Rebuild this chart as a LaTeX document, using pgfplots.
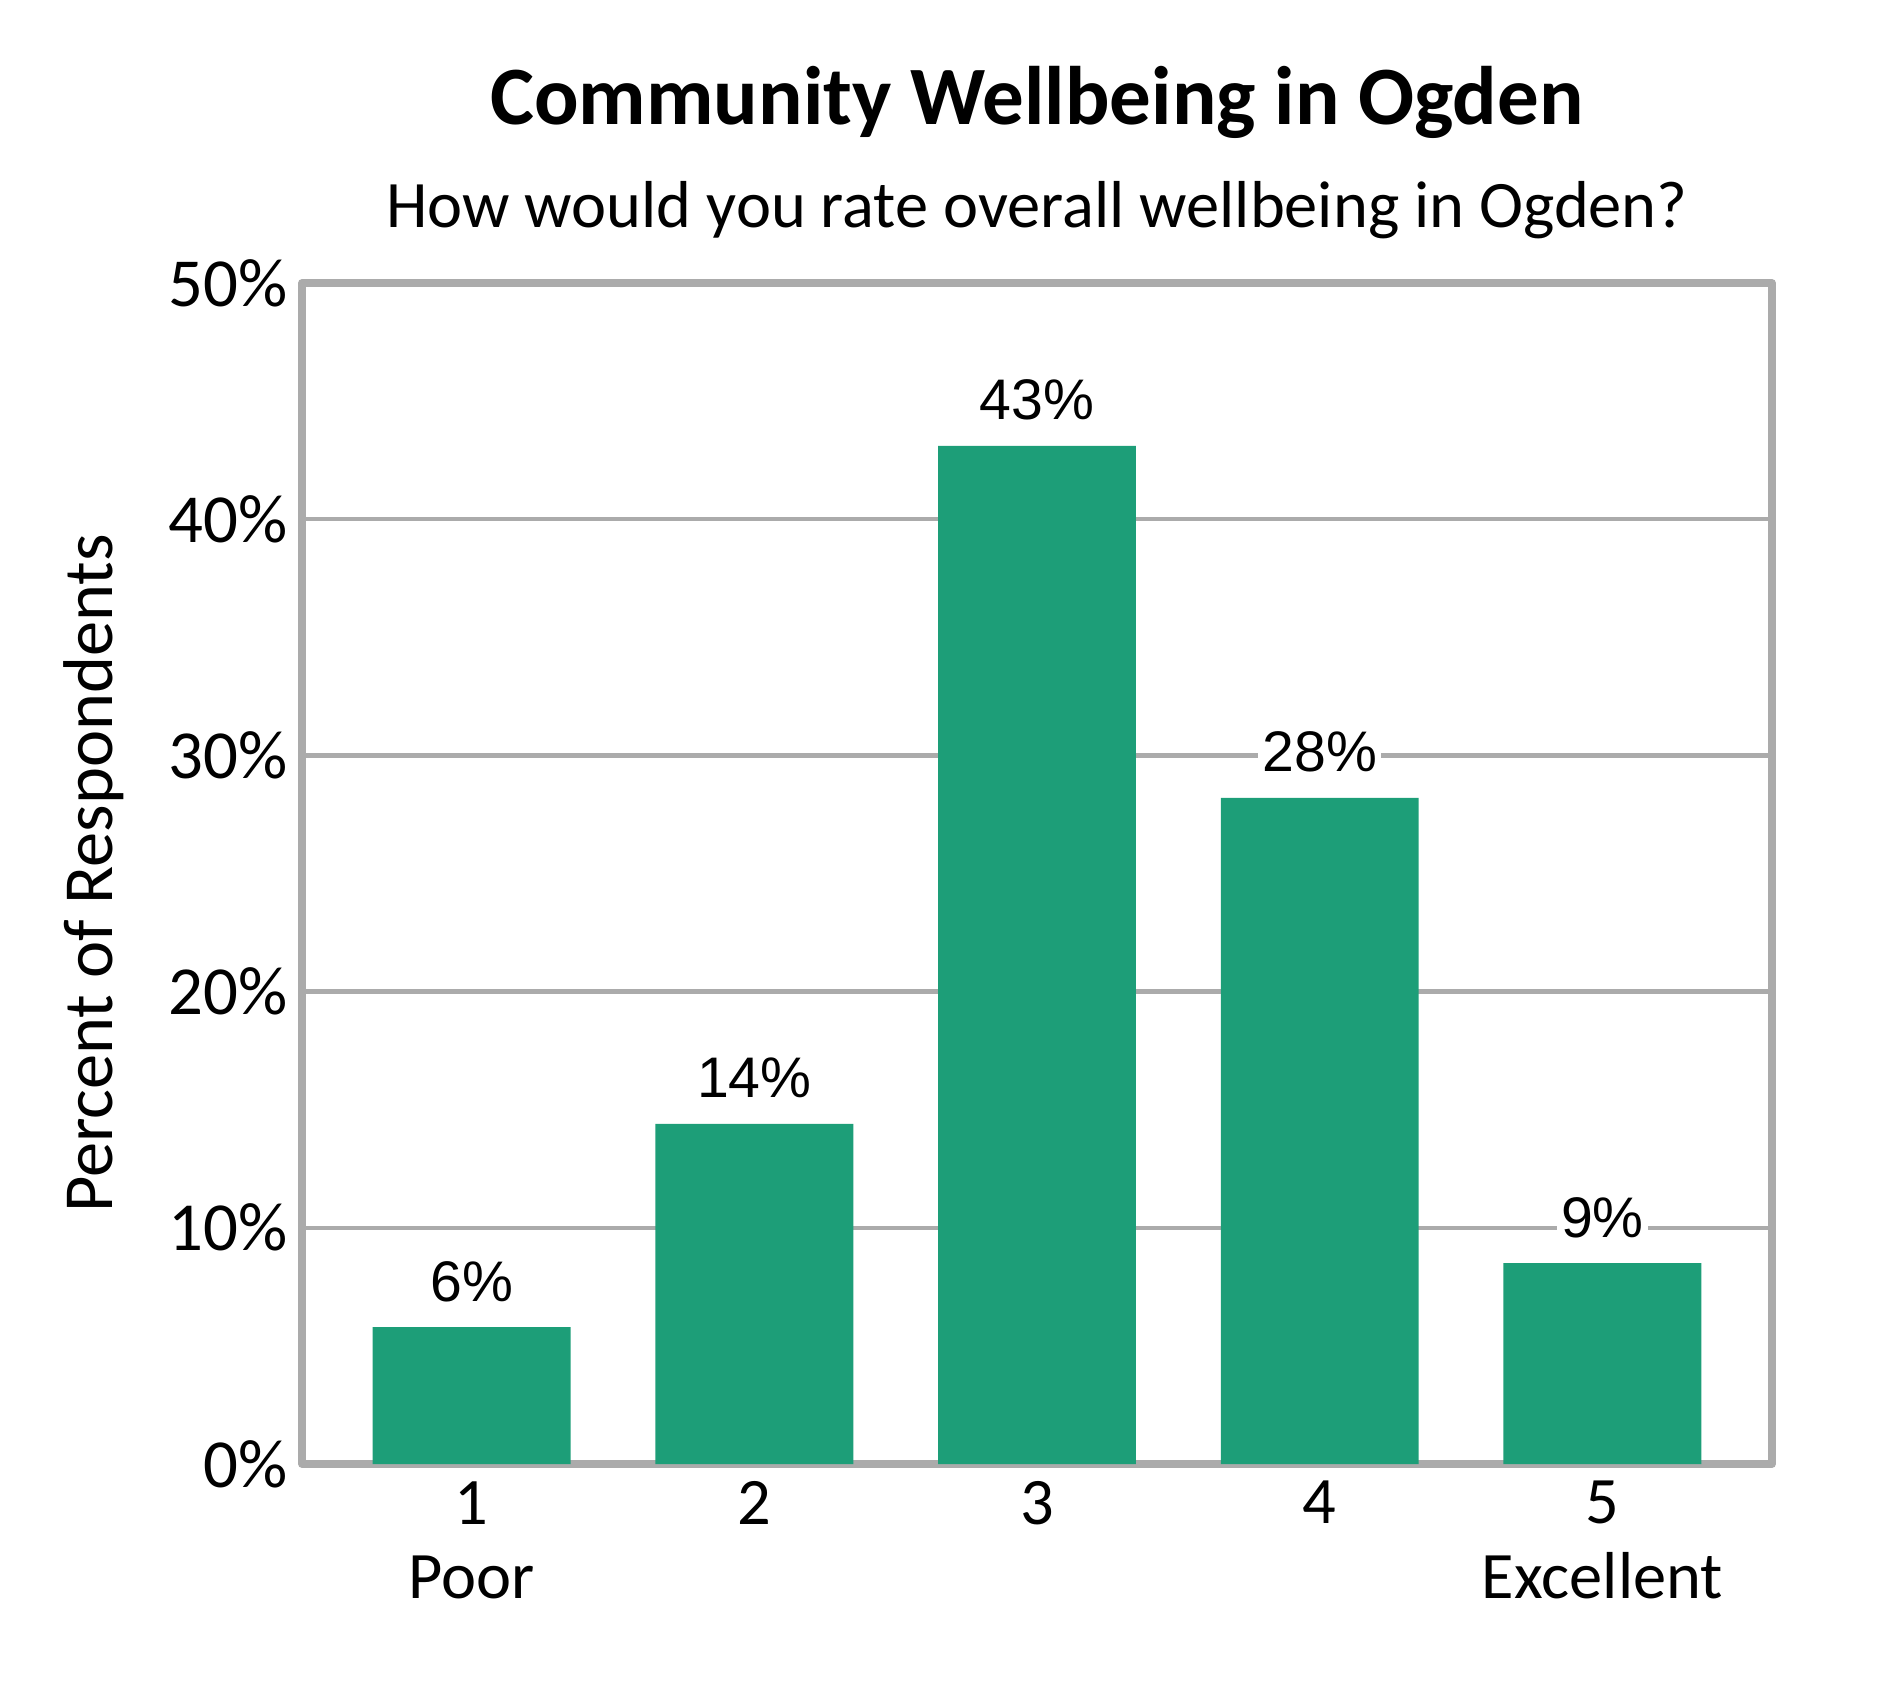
\documentclass[border=0pt]{standalone}
\usepackage{pgfplots}
\pgfplotsset{compat=1.18}
\usepackage{fontspec}
\setmainfont{Carlito}
\newfontfamily\arialfont{Liberation Sans}
\definecolor{bargreen}{RGB}{29,158,120}
\definecolor{axgray}{RGB}{171,171,171}
\begin{document}
\begin{tikzpicture}
\useasboundingbox (0,0) rectangle (472.5pt,420pt);
\begin{axis}[
  at={(75.5pt,54pt)}, anchor=south west,
  scale only axis, width=367.5pt, height=295.25pt,
  xmin=0.4, xmax=5.6, ymin=0, ymax=50,
  ybar, bar width=0.7, bar shift=0pt,
  axis line style={draw=axgray, line width=1.9pt, line cap=round, line join=round},
  ymajorgrids, grid style={draw=axgray, line width=1.1pt},
  major tick length=0pt,
  xtick={1,2,3,4,5},
  xticklabels={{1\\Poor},2,3,4,{5\\Excellent}},
  xticklabel style={align=center, font=\fontsize{16.6}{18.6}\selectfont, anchor=north, yshift=-0.8pt},
  ytick={0,10,20,30,40,50},
  yticklabels={0\%,10\%,20\%,30\%,40\%,50\%},
  yticklabel style={font=\fontsize{17.2}{19}\selectfont},
  ylabel={Percent of Respondents},
  ylabel style={at={(axis description cs:-0.1286,0.5)}, anchor=base, font=\fontsize{17.6}{20}\selectfont},
]
\addplot[fill=bargreen, draw=none, point meta=explicit symbolic, nodes near coords,
  nodes near coords style={font=\arialfont\fontsize{14.3}{16}\selectfont, fill=white, inner sep=1pt, anchor=base, yshift=6.5pt}]
  coordinates {(1,5.8) [6\%] (2,14.4) [14\%] (3,43.1) [43\%] (4,28.2) [28\%] (5,8.5) [9\%]};
\end{axis}
\node[font=\bfseries\fontsize{20.75}{24}\selectfont, anchor=base] at (259.25pt,388.8pt) {Community Wellbeing in Ogden};
\node[font=\fontsize{16.6}{20}\selectfont, anchor=base] at (259.25pt,363pt) {How would you rate overall wellbeing in Ogden?};
\end{tikzpicture}
\end{document}
